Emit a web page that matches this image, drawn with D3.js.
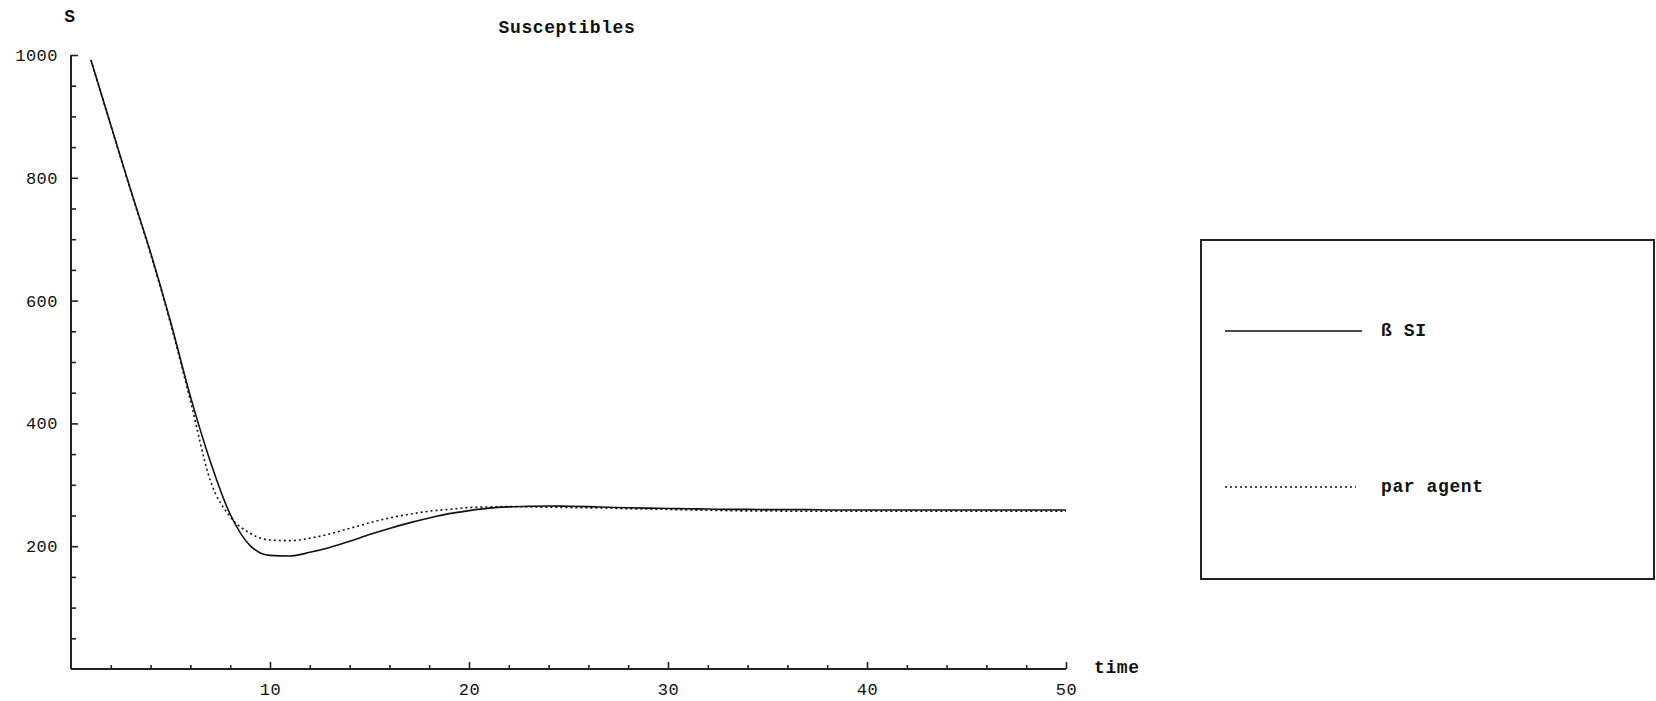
<!DOCTYPE html>
<html>
<head>
<meta charset="utf-8">
<script src="https://cdn.jsdelivr.net/npm/d3@7/dist/d3.min.js"></script>
<style>
    body { margin: 0; background: #fff; }
    svg { display: block; }
    .lbl { font-family: 'Liberation Mono', 'Courier New', monospace; font-size: 18px; fill: #111; }
    .num { font-size: 17px; letter-spacing: 0.5px; }
    .word { letter-spacing: 0.6px; font-weight: bold; }
</style>
</head>
<body>
<script>
// time steps and the two susceptible curves
var times = [1, 2, 3, 4, 5, 6, 7, 8, 9, 10, 11, 12, 13, 14, 15, 16, 17, 18, 19, 20,
    21, 22, 23, 24, 25, 26, 27, 28, 29, 30, 31, 32, 33, 34, 35, 36, 37, 38, 39, 40,
    41, 42, 43, 44, 45, 46, 47, 48, 49, 50];

var betaSI = [992, 886, 780, 678, 566, 444, 338, 252, 201, 185, 184, 190, 198, 208, 219, 229, 238, 246, 253, 258,
    262, 264, 265, 265.5, 265, 264.5, 263.5, 262.5, 262, 261.5, 261, 260.5, 260, 260, 259.5, 259.5, 259.5, 259, 259, 259,
    259, 259, 259, 259, 259, 259, 259, 259, 259, 259];

var parAgent = [992, 885, 779, 676, 563, 437, 307, 248, 221, 210, 209, 213, 220, 229, 238, 246, 252, 257, 260, 263,
    264, 264.5, 264, 263.5, 263, 262.5, 262, 261, 260.5, 260, 259, 258.5, 258, 257.5, 257.5, 257, 257, 257, 257, 257,
    257, 257, 257, 257, 257, 257, 257, 257, 257, 257];

var xMajor = [10, 20, 30, 40, 50];
var xMinor = [2, 4, 6, 8, 12, 14, 16, 18, 22, 24, 26, 28, 32, 34, 36, 38, 42, 44, 46, 48];
var yMajor = [200, 400, 600, 800, 1000];
var yMinor = [50, 100, 150, 250, 300, 350, 450, 500, 550, 650, 700, 750, 850, 900, 950];

var legendNames = ['\u00df SI', 'par agent'];

(function() {
    var width = 1656;
    var height = 701;

    var svg = d3.select('body').append('svg')
        .attr('width', width)
        .attr('height', height);

    var x = d3.scaleLinear().domain([0, 50]).range([71, 1066]);
    var y = d3.scaleLinear().domain([0, 1000]).range([669, 55]);

    var axisColor = '#222';

    // bottom axis, ticks point up into the plot
    var gx = svg.append('g')
        .attr('transform', 'translate(0,' + y(0) + ')');
    gx.call(d3.axisBottom(x).tickValues(xMinor).tickSize(-4).tickSizeOuter(0).tickFormat(''));
    gx.append('g').call(d3.axisBottom(x).tickValues(xMajor).tickSize(-7).tickSizeOuter(0)
        .tickPadding(14).tickFormat(d3.format('d')));

    // left axis, ticks point right
    var gy = svg.append('g')
        .attr('transform', 'translate(' + x(0) + ',0)');
    gy.call(d3.axisLeft(y).tickValues(yMinor).tickSize(-5).tickSizeOuter(0).tickFormat(''));
    gy.append('g').call(d3.axisLeft(y).tickValues(yMajor).tickSize(-7).tickSizeOuter(0)
        .tickPadding(13).tickFormat(d3.format('d')));

    svg.selectAll('.domain').remove();
    svg.selectAll('.tick line').attr('stroke', axisColor).attr('stroke-width', 1.6);
    svg.selectAll('.tick text')
        .attr('class', 'lbl num')
        .attr('fill', '#111');

    svg.append('line')
        .attr('x1', x(0)).attr('x2', x(50))
        .attr('y1', y(0)).attr('y2', y(0))
        .attr('stroke', axisColor).attr('stroke-width', 2);
    svg.append('line')
        .attr('x1', x(0)).attr('x2', x(0))
        .attr('y1', y(0)).attr('y2', y(1000))
        .attr('stroke', axisColor).attr('stroke-width', 2);

    // axis names and title
    svg.append('text').attr('class', 'lbl word')
        .attr('x', 70).attr('y', 22)
        .attr('text-anchor', 'middle')
        .text('S');
    svg.append('text').attr('class', 'lbl word')
        .attr('x', 1094).attr('y', 673)
        .text('time');
    svg.append('text').attr('class', 'lbl word')
        .attr('x', 567).attr('y', 33)
        .attr('text-anchor', 'middle')
        .text('Susceptibles');

    var line = d3.line()
        .x(function(d) { return x(d[0]); })
        .y(function(d) { return y(d[1]); })
        .curve(d3.curveMonotoneX);

    var series = [
        {name: legendNames[0], values: betaSI, dash: null},
        {name: legendNames[1], values: parAgent, dash: '2,3'}
    ];

    series.forEach(function(s) {
        var pts = times.map(function(t, i) { return [t, s.values[i]]; });
        svg.append('path')
            .datum(pts)
            .attr('d', line)
            .attr('fill', 'none')
            .attr('stroke', '#111')
            .attr('stroke-width', 1.6)
            .attr('stroke-dasharray', s.dash);
    });

    // legend box
    var legend = svg.append('g');
    legend.append('rect')
        .attr('x', 1201).attr('y', 240)
        .attr('width', 453).attr('height', 339)
        .attr('fill', 'none')
        .attr('stroke', '#222')
        .attr('stroke-width', 2);

    var rowY = [331, 487];
    series.forEach(function(s, i) {
        legend.append('line')
            .attr('x1', 1225).attr('x2', s.dash ? 1356 : 1362)
            .attr('y1', rowY[i]).attr('y2', rowY[i])
            .attr('stroke', '#111')
            .attr('stroke-width', 1.6)
            .attr('stroke-dasharray', s.dash);
        legend.append('text').attr('class', 'lbl word')
            .attr('x', 1381).attr('y', rowY[i] + 5)
            .text(s.name);
    });
}());
</script>
</body>
</html>
